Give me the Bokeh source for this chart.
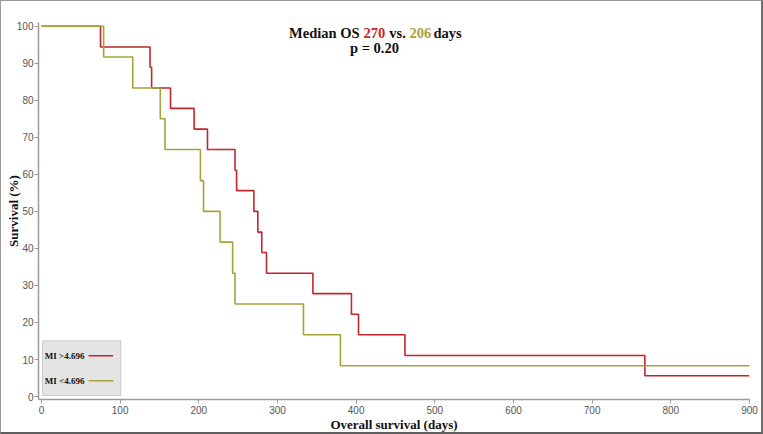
from bokeh.plotting import figure
from bokeh.models import BoxAnnotation, Label, FixedTicker, Range1d
from bokeh.embed import file_html
from bokeh.resources import INLINE

# Kaplan-Meier data (time in days, survival in %)
hi_label = "MI >4.696"
hi_times = [0, 75, 138, 140, 164, 194, 211, 246, 248, 270, 275, 280, 286, 345, 394, 403, 462, 767, 900]
hi_surv = [100, 94.4, 88.9, 83.3, 77.8, 72.2, 66.7, 61.1, 55.6, 50.0, 44.4, 38.9, 33.3, 27.8, 22.2, 16.7, 11.1, 5.6, 5.6]

lo_label = "MI <4.696"
lo_times = [0, 79, 116, 151, 157, 202, 206, 227, 243, 246, 333, 380, 900]
lo_surv = [100, 91.7, 83.3, 75.0, 66.7, 58.3, 50.0, 41.7, 33.3, 25.0, 16.7, 8.3, 8.3]

x_ticks = [0, 100, 200, 300, 400, 500, 600, 700, 800, 900]
y_ticks = [0, 10, 20, 30, 40, 50, 60, 70, 80, 90, 100]

x_title = "Overall survival (days)"
y_title = "Survival (%)"
median_hi = "270"
median_lo = "206"
p_value = "p = 0.20"

RED = "#c1272d"
OLIVE = "#a6a23c"
SERIF = "Liberation Serif"
SANS = "Liberation Sans"

W, H = 763, 434
FL, FR = 37, 748
FT, FB = 21, 398
X0, X1 = -3.8, 900
Y0, Y1 = -0.8, 101

p = figure(width=W, height=H, output_backend="svg", toolbar_location=None,
           x_range=Range1d(X0, X1), y_range=Range1d(Y0, Y1))
p.min_border_left = FL
p.min_border_right = W - FR
p.min_border_top = FT
p.min_border_bottom = H - FB
p.outline_line_color = None
p.xgrid.visible = False
p.ygrid.visible = False
p.styles = {"border": "1px solid #9a9a9a", "border-right": "2px solid #6e6e6e",
            "border-bottom": "2px solid #5e5e5e", "box-sizing": "border-box"}

for ax in (p.xaxis[0], p.yaxis[0]):
    ax.axis_line_color = "#9a9a9a"
    ax.axis_line_width = 1.5
    ax.major_tick_line_color = "#9a9a9a"
    ax.major_tick_in = 0
    ax.major_tick_out = 4
    ax.minor_tick_line_color = None
    ax.major_label_text_font = SANS
    ax.major_label_text_font_size = "10px"
    ax.major_label_text_color = "#555555"
    ax.axis_label_text_font = SERIF
    ax.axis_label_text_font_style = "bold"
    ax.axis_label_text_font_size = "13px"
    ax.axis_label_text_color = "#111111"

p.xaxis.major_label_standoff = 2
p.xaxis.axis_label_standoff = 0
p.yaxis.major_label_standoff = 1
p.yaxis.axis_label_standoff = -7

p.xaxis.ticker = FixedTicker(ticks=x_ticks)
p.yaxis.ticker = FixedTicker(ticks=y_ticks)
p.xaxis.axis_label = x_title
p.yaxis.axis_label = y_title

p.step(hi_times, hi_surv, mode="after", line_color=RED, line_width=1.6)
p.step(lo_times, lo_surv, mode="after", line_color=OLIVE, line_width=1.6)

def px_to_x(px):
    return X0 + (px - FL) / (FR - FL) * (X1 - X0)

def py_to_y(py):
    return Y1 - (py - FT) / (FB - FT) * (Y1 - Y0)

# Title pieces (multi-coloured)
title_parts = [("Median OS", 358, "#111111", "right"), (median_hi, 362, RED, "left"),
               ("vs.", 396, "#111111", "center"), (median_lo, 408, OLIVE, "left"),
               ("days", 432, "#111111", "left")]
for txt, px, col, al in title_parts:
    p.add_layout(Label(x=px_to_x(px), y=py_to_y(31.7), text=txt, text_font=SERIF,
                       text_font_style="bold", text_font_size="14.5px", text_color=col,
                       text_align=al, text_baseline="alphabetic"))
p.add_layout(Label(x=px_to_x(373), y=py_to_y(46.7), text=p_value, text_font=SERIF,
                   text_font_style="bold", text_font_size="14.5px", text_color="#111111",
                   text_align="center", text_baseline="alphabetic"))

# Custom legend (label first, line sample after)
p.add_layout(BoxAnnotation(left=px_to_x(41), right=px_to_x(119.3), top=py_to_y(339.3),
                           bottom=py_to_y(394), fill_color="#e4e4e4", fill_alpha=1.0,
                           line_color="#7a7a7a", line_width=1, level="underlay"))
for lab, col, py in [(hi_label, RED, 354.3), (lo_label, OLIVE, 379.3)]:
    p.add_layout(Label(x=px_to_x(43.3), y=py_to_y(py), text=lab, text_font=SERIF,
                       text_font_style="bold", text_font_size="9px", text_color="#111111",
                       text_align="left", text_baseline="middle"))
    p.line([px_to_x(87), px_to_x(111.7)], [py_to_y(py), py_to_y(py)], line_color=col,
           line_width=1.6)

open("out.html", "w").write(file_html(p, INLINE))
